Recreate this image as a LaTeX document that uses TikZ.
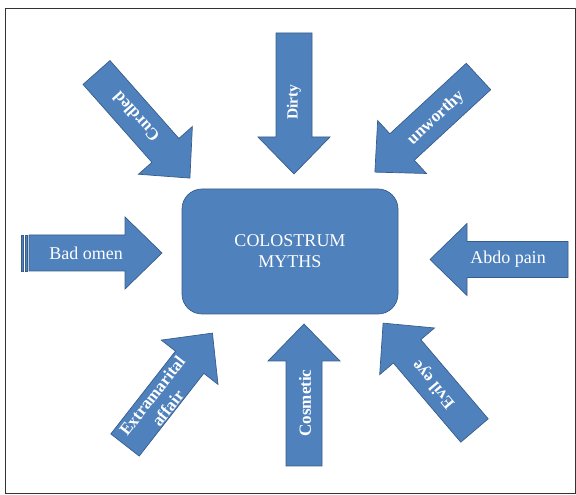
\documentclass[tikz,border=0pt]{standalone}
\usepackage{fontspec}
\setmainfont{Liberation Serif}
\definecolor{mythblue}{HTML}{4F81BD}
\definecolor{mythedge}{HTML}{385D8A}
\begin{document}
\begin{tikzpicture}[x=1pt,y=1pt,
  every node/.style={text=white,font=\fontsize{17}{20}\selectfont\bfseries},
  plain label/.style={font=\fontsize{18}{21}\selectfont},
  myth arrow/.pic={\filldraw[fill=mythblue,draw=mythedge,line width=0.7pt]
    (0,-18) -- ({#1-37},-18) -- ({#1-37},-36) -- (#1,0) -- ({#1-37},36)
    -- ({#1-37},18) -- (0,18) -- cycle;}]
  \useasboundingbox (0,0) rectangle (576,495);
  \draw[line width=0.8pt,black!80] (5,1.5) rectangle (575,487);
  % central box
  \node[plain label,draw=mythedge,line width=0.7pt,fill=mythblue,rounded corners=20pt,
    minimum width=216pt,minimum height=125pt,align=center] (myths) at (290,243.5) {COLOSTRUM\\MYTHS};
  % arrows, tail at the given point
  \pic[rotate=-90] at (294,462) {myth arrow=141};
  \pic[rotate=90] at (304,29) {myth arrow=142};
  \pic[rotate=180] at (568,235.5) {myth arrow=138};
  \pic[rotate=-48.5] at (96.5,422.5) {myth arrow=141};
  \pic[rotate=-137.3] at (478.5,418.5) {myth arrow=141};
  \pic[rotate=52] at (125,50) {myth arrow=142};
  \pic[rotate=130.4] at (474.5,64.5) {myth arrow=141};
  % striped arrow on the left
  \pic at (29,242) {myth arrow=133};
  \filldraw[fill=mythblue,draw=mythedge,line width=0.5pt] (21,224) rectangle (23.5,260);
  \filldraw[fill=mythblue,draw=mythedge,line width=0.5pt] (25,224) rectangle (27.5,260);
  % labels
  \node[rotate=90,font=\fontsize{15.5}{18}\selectfont\bfseries] (dirty) at (294,393) {Dirty};
  \node[rotate=90] (cosmetic) at (305,92) {Cosmetic};
  \node[rotate=132] (curdled) at (136,378) {Curdled};
  \node[rotate=43] (unworthy) at (436,377) {unworthy};
  \node[rotate=52,align=center] (affair) at (160,93) {Extramarital\\affair};
  \node[rotate=130] (evileye) at (434,111) {Evil eye};
  \node[plain label] (badomen) at (86,242) {Bad omen};
  \node[plain label] (abdo) at (508,236) {Abdo pain};
\end{tikzpicture}
\end{document}
